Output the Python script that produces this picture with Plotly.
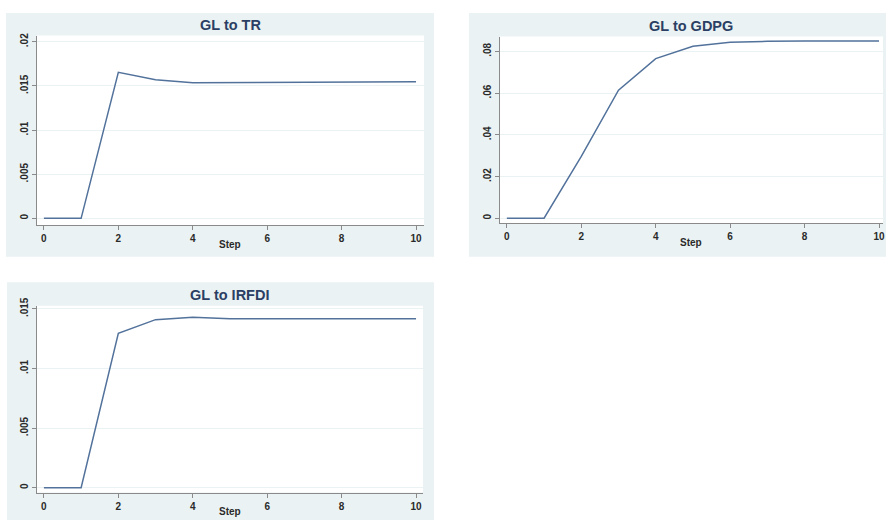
import plotly.graph_objects as go

steps = [0, 1, 2, 3, 4, 5, 6, 7, 8, 9, 10]
gl_to_tr = [0, 0, 0.01654, 0.01569, 0.01535, 0.01537, 0.01540, 0.01543, 0.01545, 0.01546, 0.01546]
gl_to_gdpg = [0, 0, 0.0296, 0.0614, 0.0765, 0.0824, 0.0843, 0.0848, 0.0849, 0.0849, 0.0849]
gl_to_irfdi = [0, 0, 0.01294, 0.01409, 0.01428, 0.01417, 0.01416, 0.01416, 0.01416, 0.01416, 0.01416]

titles = ["GL to TR", "GL to GDPG", "GL to IRFDI"]
x_ticks = [0, 2, 4, 6, 8, 10]
tr_ticks = [0, 0.005, 0.01, 0.015, 0.02]
tr_labels = ["0", ".005", ".01", ".015", ".02"]
gdpg_ticks = [0, 0.02, 0.04, 0.06, 0.08]
gdpg_labels = ["0", ".02", ".04", ".06", ".08"]
irfdi_ticks = [0, 0.005, 0.01, 0.015]
irfdi_labels = ["0", ".005", ".01", ".015"]

W, H = 888, 523
LINE = "#52729b"
BG = "#eaf2f3"
FONT = "Liberation Sans, Arial, sans-serif"

def px(x):
    return x / W

def py(y):
    return 1 - y / H

fig = go.Figure()

panels = [
    # (data, ticks, labels, yrange, box, plot-area)
    (gl_to_tr, tr_ticks, tr_labels, [-0.00078, 0.0207], (6, 4, 435, 252), (37, 27, 425, 220)),
    (gl_to_gdpg, gdpg_ticks, gdpg_labels, [-0.0024, 0.0871], (470, 4, 888, 252), (501, 28, 885, 218)),
    (gl_to_irfdi, irfdi_ticks, irfdi_labels, [-0.0004, 0.01525], (7, 278, 435, 520), (37, 302, 424, 492)),
]

layout = {}
shapes = []
annotations = []
UNIT = 37.3
for i, (vals, yt, yl, yr, box, area) in enumerate(panels):
    n = "" if i == 0 else str(i + 1)
    xa, ya = "x" + n, "y" + n
    fig.add_trace(go.Scatter(x=steps, y=vals, mode="lines", xaxis=xa, yaxis=ya,
                             line=dict(color=LINE, width=1.5), showlegend=False,
                             hoverinfo="skip"))
    x0, y0, x1, y1 = area
    layout["xaxis" + n] = dict(
        domain=[px(x0), px(x1)], anchor=ya,
        range=[-7 / UNIT, 10 + (x1 - (x0 + 7 + 10 * UNIT)) / UNIT],
        tickvals=x_ticks, ticks="outside", ticklen=4, tickcolor="#8a8a8a",
        showline=True, linecolor="#8a8a8a", linewidth=1, showgrid=False, zeroline=False,
        tickfont=dict(family=FONT, size=10, color="#2a2a2a", weight="bold"), fixedrange=True,
        ticklabeloverflow="allow",
    )
    layout["yaxis" + n] = dict(
        domain=[py(y1), py(y0)], anchor=xa, range=yr,
        tickvals=yt, ticktext=yl, tickangle=-90, ticks="outside", ticklen=4, tickcolor="#8a8a8a",
        showline=True, linecolor="#8a8a8a", linewidth=1, showgrid=True, gridcolor=BG, gridwidth=1,
        zeroline=False, tickfont=dict(family=FONT, size=10, color="#2a2a2a", weight="bold"),
        fixedrange=True,
    )
    bx0, by0, bx1, by1 = box
    shapes.append(dict(type="rect", xref="paper", yref="paper", x0=px(bx0), x1=px(bx1),
                       y0=py(by1), y1=py(by0), fillcolor=BG, line=dict(width=0), layer="below"))
    shapes.append(dict(type="rect", xref="paper", yref="paper", x0=px(x0), x1=px(x1),
                       y0=py(y1), y1=py(y0), fillcolor="white", line=dict(width=0), layer="below"))
    annotations.append(dict(text="<b>" + titles[i] + "</b>", xref="paper", yref="paper",
                            x=px((x0 + x1) / 2), y=py(y0 - 1), xanchor="center", yanchor="bottom",
                            showarrow=False, font=dict(family=FONT, size=14.5, color="#2a3f63")))
    annotations.append(dict(text="<b>Step</b>", xref="paper", yref="paper",
                            x=px((x0 + x1) / 2), y=py(y1 + 12), xanchor="center", yanchor="top",
                            showarrow=False, font=dict(family=FONT, size=10, color="#2a2a2a")))

fig.update_layout(
    width=W, height=H, margin=dict(l=0, r=0, t=0, b=0),
    paper_bgcolor="white", plot_bgcolor="white",
    shapes=shapes, annotations=annotations, showlegend=False, **layout,
)

fig.write_html("out.html", config={"displayModeBar": False},
               post_script="document.body.style.margin='0';document.body.style.padding='0';")
